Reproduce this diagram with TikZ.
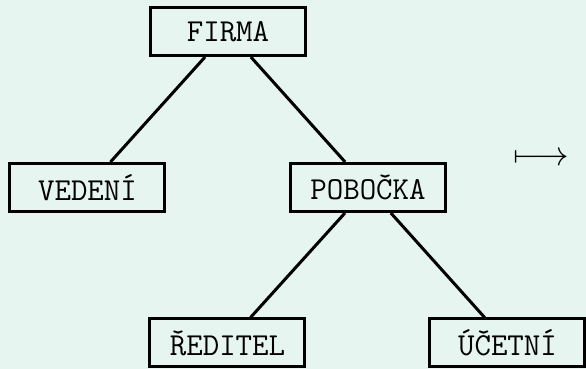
\documentclass[tikz,border=0pt]{standalone}
\usepackage{fontspec}
\definecolor{bgc}{RGB}{230,245,240}
\begin{document}
\begin{tikzpicture}[x=0.5pt,y=-0.5pt,
  box/.style={draw=black,line width=1.5pt,fill=bgc,minimum width=77.5pt,minimum height=24pt,inner sep=0pt,
    font=\fontsize{16}{19}\selectfont\ttfamily},
  edge/.style={draw=black,line width=1.5pt}]
\fill[bgc] (0,0) rectangle (586,369);
\useasboundingbox (0,0) rectangle (586,369);
\node[box] (firma) at (228,31.5) {FIRMA};
\node[box] (vedeni) at (87.5,187.5) {VEDENÍ};
\node[box] (pobocka) at (368,187.5) {POBOČKA};
\node[box] (reditel) at (227.5,343) {ŘEDITEL};
\node[box] (ucetni) at (507.5,343) {ÚČETNÍ};
\draw[edge] (firma) -- (vedeni);
\draw[edge] (firma) -- (pobocka);
\draw[edge] (pobocka) -- (reditel);
\draw[edge] (pobocka) -- (ucetni);
\node[font=\fontsize{16}{19}\selectfont] (arr) at (541.5,159.5) {$\longmapsto$};
\end{tikzpicture}
\end{document}
